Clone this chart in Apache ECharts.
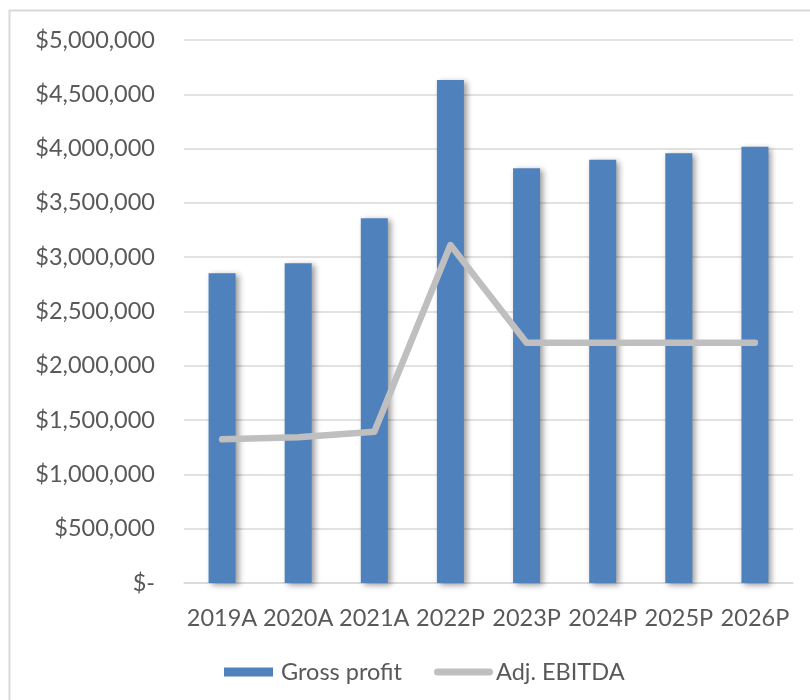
<!DOCTYPE html>
<html>
<head>
<meta charset="utf-8">
<script src="https://cdn.jsdelivr.net/npm/echarts@6/dist/echarts.min.js"></script>
<style>
html,body{margin:0;padding:0;background:#fff;}
#chart{width:810px;height:700px;}
</style>
</head>
<body>
<div id="chart"></div>
<script>
const categories = ['2019A','2020A','2021A','2022P','2023P','2024P','2025P','2026P'];
const grossProfit = [2852000, 2944000, 3358000, 4632000, 3818000, 3898000, 3957000, 4018000];
const adjEbitda = [1323000, 1342000, 1393000, 3112000, 2213000, 2213000, 2213000, 2213000];
const yMin = 0, yMax = 5000000, yStep = 500000;

const FONT = 'Lato';
const TXT = '#595959';

const chart = echarts.init(document.getElementById('chart'), null, {renderer:'canvas'});
chart.setOption({
  backgroundColor:'#ffffff',
  animation:false,
  graphic:[{
    type:'rect', silent:true, z:-10,
    shape:{x:9.5,y:10.5,width:900,height:900},
    style:{fill:'none',stroke:'#D9D9D9',lineWidth:2}
  }],
  grid:{left:184,right:17,top:40,height:543,containLabel:false},
  xAxis:{
    type:'category', data:categories,
    axisLine:{show:true,lineStyle:{color:'#D9D9D9',width:1.5}},
    axisTick:{show:false},
    axisLabel:{color:TXT,fontFamily:FONT,fontSize:23.5,margin:23,interval:0}
  },
  yAxis:{
    type:'value', min:yMin, max:yMax, interval:yStep,
    axisLine:{show:false}, axisTick:{show:false},
    splitLine:{lineStyle:{color:'#D9D9D9',width:1.5}},
    axisLabel:{color:TXT,fontFamily:FONT,fontSize:23.5,margin:29,
      formatter:v=> v===0 ? '$-' : '$'+v.toLocaleString('en-US')}
  },
  legend:[{
    data:[{name:'Gross profit',icon:'rect'}],
    left:219, top:655, itemWidth:49, itemHeight:9,
    textStyle:{color:TXT,fontFamily:FONT,fontSize:23.5,padding:[0,0,0,3]}
  },{
    data:[{name:'Adj. EBITDA',icon:'path://M3.5,0 H55.5 A3.5,3.5 0 0 1 55.5,7 H3.5 A3.5,3.5 0 0 1 3.5,0 Z'}],
    left:429, top:655, itemWidth:59, itemHeight:7,
    textStyle:{color:TXT,fontFamily:FONT,fontSize:23.5,padding:[0,0,0,-2]}
  }],
  series:[{
    name:'Gross profit', type:'bar', data:grossProfit, barWidth:27,
    itemStyle:{color:'#4F81BD',shadowColor:'rgba(0,0,0,0.4)',shadowBlur:6,shadowOffsetX:3,shadowOffsetY:2}
  },{
    name:'Adj. EBITDA', type:'line', data:adjEbitda, symbol:'none',
    itemStyle:{color:'#BFBFBF'},
    lineStyle:{color:'#BFBFBF',width:6.5,cap:'round',join:'round'}
  }]
});
</script>
</body>
</html>
